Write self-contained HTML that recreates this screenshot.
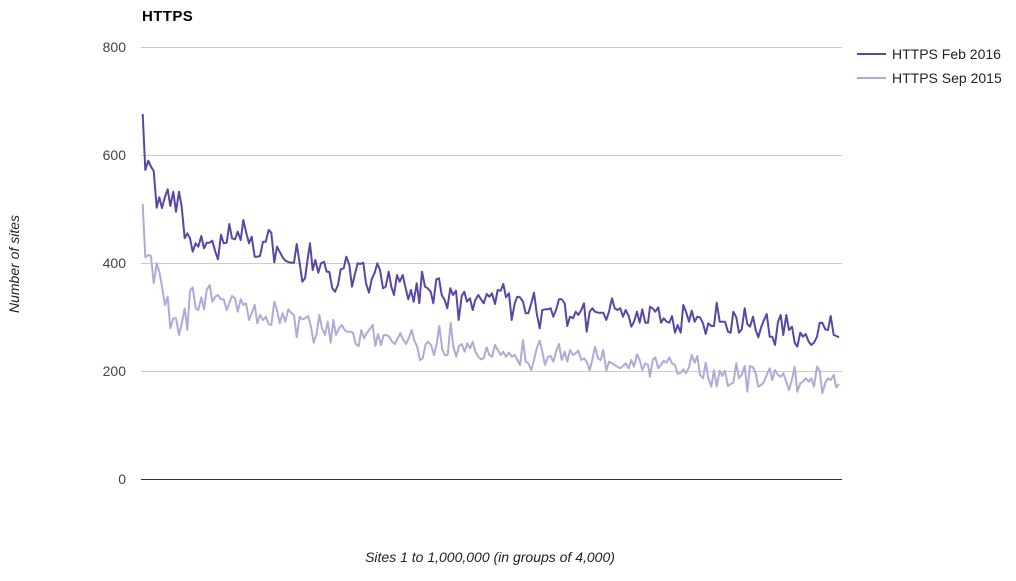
<!DOCTYPE html>
<html><head><meta charset="utf-8"><style>
html,body{margin:0;padding:0;background:#fff;}
svg{display:block;}
text{font-family:"Liberation Sans",Arial,sans-serif;}
</style></head><body>
<svg width="1016" height="581" viewBox="0 0 1016 581" xmlns="http://www.w3.org/2000/svg">
<rect width="1016" height="581" fill="#fff"/>
<text x="142" y="21" font-size="15" font-weight="bold" fill="#000" letter-spacing="0.4">HTTPS</text>
<g stroke="#cccccc" stroke-width="1">
<line x1="141" y1="47.5" x2="842" y2="47.5"/>
<line x1="141" y1="155.5" x2="842" y2="155.5"/>
<line x1="141" y1="263.5" x2="842" y2="263.5"/>
<line x1="141" y1="371.5" x2="842" y2="371.5"/>
</g>
<line x1="141" y1="479.5" x2="842" y2="479.5" stroke="#333" stroke-width="1"/>
<g font-size="14" fill="#444" text-anchor="end">
<text x="126" y="52">800</text>
<text x="126" y="160">600</text>
<text x="126" y="268">400</text>
<text x="126" y="376">200</text>
<text x="126" y="484">0</text>
</g>
<text x="490" y="562" font-size="14" font-style="italic" fill="#222" text-anchor="middle">Sites 1 to 1,000,000 (in groups of 4,000)</text>
<text transform="translate(19,264) rotate(-90)" font-size="14" font-style="italic" fill="#222" text-anchor="middle">Number of sites</text>
<polyline fill="none" stroke="#b4a8d8" stroke-width="2" stroke-linejoin="round" points="142.7,204 145.3,257.3 148.3,255 151,256 153.7,283.3 156.7,263.3 159.3,271.7 162,286.7 165,305 167.7,296.7 170.3,328.3 173.3,318.3 176,318.3 179,335 181.7,324 184.7,308.3 187.3,330 190,290.7 192.7,287.3 195.7,308.3 198.3,310 201.3,297.3 204,309.3 206.7,290 209.7,285 212.3,301.7 215.3,296.7 218,295 221,299.3 223.7,299.3 226.7,310 229.3,303.3 232,296 235,298.3 237.7,311.7 240.7,299.3 243.3,305 246,303.3 249,320 251.7,313.3 254.7,305 257.3,323.3 260,315 263,320 265.7,316.7 268.7,324 271.3,325 274.3,301.7 277,310 279.7,323.3 282.7,313.3 285.3,321.7 288.3,309.3 291,312.7 294,315 296.7,337.3 299.7,316.7 302.3,319.3 305,318.3 308,316 311,326.7 313.7,342.7 316.7,333.3 319.3,315 322,328.3 325,335 327.7,321.7 330.7,342.7 333.3,320 336,335 339,328.3 341.7,325 344.7,330 347.3,331.7 350,331.7 353,332.7 355.7,344 358.7,346 361.3,330 364,338.3 367,332.7 369.7,329.3 372.7,325 375.3,346 378,334 381,345 383.7,335 386.3,335 389.3,336.7 392,341.7 395,344 397.7,338.3 400.3,333.3 403.3,340 406,344 408.7,338.3 411.7,330 414.3,340.7 417,346 420,360 422.7,358.3 425.7,344 428.3,341.7 431,345 434,355 436.7,343.3 439.3,326 442.3,350 445,355 447.7,355 450.7,322.7 453.3,346.7 456.3,356.7 459,346 461.7,344 464.7,351.7 467.3,343.3 470,348.3 472.7,341.7 475.3,351.7 478.3,356.7 481,359.3 483.7,358.3 486.7,347.3 489.3,355 492,356.7 495,345 497.7,350 500.7,355 503.3,351.7 506,356.7 509,352.7 511.7,356.7 514.7,355 517.3,360 520,365 523,340 525.7,361.7 528.3,363.3 531.3,370 534,360 536.7,348.3 539.7,340.7 542.3,351.7 545,365 548,356.7 550.7,356 553.3,361.7 556.3,350.7 559,344 561.7,360 564.7,351.7 567.3,361.7 570,350 573,355 575.7,353.3 578.3,350.7 581.3,360 584,358.3 586.7,361.7 589.7,370 592.3,360 595,346.7 598,358.3 600.7,360 603.3,350 606.3,370.7 609,361.7 612,363.3 614.7,365 617.3,366.7 620.3,368.3 623,366 625.7,363.3 628.7,368.3 631.3,360 634,366.7 637,354.3 639.7,360 642.3,370 645.3,363.3 648,365 650,376.7 652.7,360 655.3,357.3 658.3,368.3 661,365 663.7,360.7 666.7,362.7 669.3,357.3 672,363.3 675,365 677.7,374 680.7,372.7 683.3,369.3 686,373.3 689,367.3 691.7,355 694.7,362.7 697.3,356 700,375 703,378.3 705.7,362.7 708.3,378.3 711.3,386.7 714,370 716.7,386.7 719.7,370.7 722.3,376 725,370.7 728,386 730.7,384 733.3,382.7 736.3,363.3 739,378.3 741.7,375 744.7,366 747.3,391.7 750,366 753,367.3 755.7,373.3 758.3,386.7 761.3,385 764,381.7 766.7,375 769.7,368.3 772.3,380 775,370 778,375 780.7,376.7 783.3,373.3 786.3,381.7 789,390 792,379.3 794.7,366.7 797.3,391.7 800.3,383.3 803,381.7 805.7,378.3 808.7,381.7 811.3,378.3 814,386.7 817,366.7 819.7,370.7 822.3,393.3 825.3,382.7 828,378.3 830.7,380 833.7,375 836.3,387.3 839,384"/>
<polyline fill="none" stroke="#5a46a6" stroke-width="2" stroke-linejoin="round" points="142.7,114 145.3,170 148.3,160.7 151,166.7 153.7,171 156.7,207.7 159.3,197.3 162,208 165,196.7 167.7,189.3 170.3,206 173.3,191.7 176,211.7 179,191.7 181.7,206.7 184.7,238.3 187.3,233.3 190,238.3 192.7,251.7 195.7,243.3 198.3,246.7 201.3,236 204,248.3 206.7,242.7 209.7,242.7 212.3,240.7 215.3,251.7 218,259.3 221,234.7 223.7,243.3 226.7,242.7 229.3,224 232,238.3 235,239.3 237.7,231.7 240.7,240 243.3,220 246,231.7 249,243.3 251.7,236.7 254.7,256.7 257.3,256.7 260,256 263,241.7 265.7,241.7 268.7,230 271.3,232.7 274.3,262.3 277,246.7 279.7,251.7 282.7,257.3 285.3,260.7 288.3,262 291,262.7 294,262.7 296.7,244 299.7,263.3 302.3,281.7 305,278.3 308,256.7 310,243.3 312.7,270 315.3,260 318.3,272.7 321,263.3 324,261.7 326.7,271.7 329.3,271.7 332.3,288.3 335,291.7 338,285 340.7,269.3 343.7,268.3 346.3,256.7 349.3,265 352,286.7 354.7,275 357.7,263.3 360.3,264 363.3,262.7 366,283.3 369,292.7 371.7,279.3 374.7,272.7 377.3,263.3 380,270 383,288.3 385.7,286.7 388.7,271.7 391.3,286.7 394,295 397,275 399.7,281.7 402.7,275 405.3,286.7 408.3,299.3 411,290 413.7,301.7 416.7,283.3 419.3,303.3 422,271.7 425,286.7 427.7,288.3 430.7,291.7 433.3,303.3 436.3,279.3 439,278.3 441.7,295 444.7,300 447.3,308.3 450.3,288.3 453,295 456,290.7 458.7,320 461.7,296 464.3,291.7 467,301.7 470,298.3 472.7,310 475.3,300 478.3,295 481,299.3 483.7,303.3 486.7,294 489.3,296.7 492,293.3 495,304 497.7,290 500.7,290.7 503.3,284 506,297.3 509,293.3 511.7,320 514.7,303.3 517.3,296.7 520,297.3 523,301.7 525.7,313.3 528.3,313.3 531.3,303.3 534,292.7 536.7,313.3 539.7,328.3 542.3,310 545,309.3 548,309.3 550.7,308.3 553.3,316.7 556.3,309.3 559,299.3 561.7,299.3 564.7,303.3 567.3,326 570,316.7 573,318.3 575.7,311.7 578.3,315 581.3,310 584,303.3 586.7,331.7 589.7,311.7 592.3,308.3 595,311.7 598,312.7 600.7,312.7 603.3,312.7 606.3,320 609,311.7 612,298.3 614.7,308.3 617.3,310 620.3,308.3 623,316.7 625.7,310 628.7,316 631.3,326.7 634,321.7 637,311.7 639.7,322.7 642.3,309.3 645.3,322.7 648,322.7 650,306.7 652.7,308.3 655.3,311.7 658.3,307.3 661,322.7 663.7,318.3 666.7,321.7 669.3,322.7 672,316 675,332.7 677.7,325 680.7,332.7 683.3,305 686,311.7 689,321.7 691.7,310.7 694.7,321.7 697.3,316.7 700,317.3 703,323.3 705.7,334 708.3,323.3 711.3,326 714,326 716.7,302.7 719.7,321.7 722.3,321.7 725,321.7 728,331.7 730.7,332.7 733.3,311.7 736.3,317.3 739,332.7 741.7,329.3 744.7,308.3 747.3,324 750,326.7 753,316.7 755.7,330 758.3,337.3 761.3,326.7 764,320 766.7,314 769.7,336.7 772.3,336.7 775,345 778,321.7 780.7,315 783.3,335 786.3,315 789,330 792,326.7 794.7,342.7 797.3,346.7 800.3,332.7 803,336.7 805.7,334 808.7,341.7 811.3,345 814,342.7 817,336.7 819.7,322.7 822.3,322.7 825.3,329.3 828,330 830.7,316 833.7,335 836.3,336 839,337.3"/>
<line x1="857" y1="54" x2="886" y2="54" stroke="#5a46a6" stroke-width="2"/>
<text x="892" y="59" font-size="14" fill="#222">HTTPS Feb 2016</text>
<line x1="857" y1="78" x2="886" y2="78" stroke="#b4a8d8" stroke-width="2"/>
<text x="892" y="83" font-size="14" fill="#222">HTTPS Sep 2015</text>
</svg>
</body></html>
